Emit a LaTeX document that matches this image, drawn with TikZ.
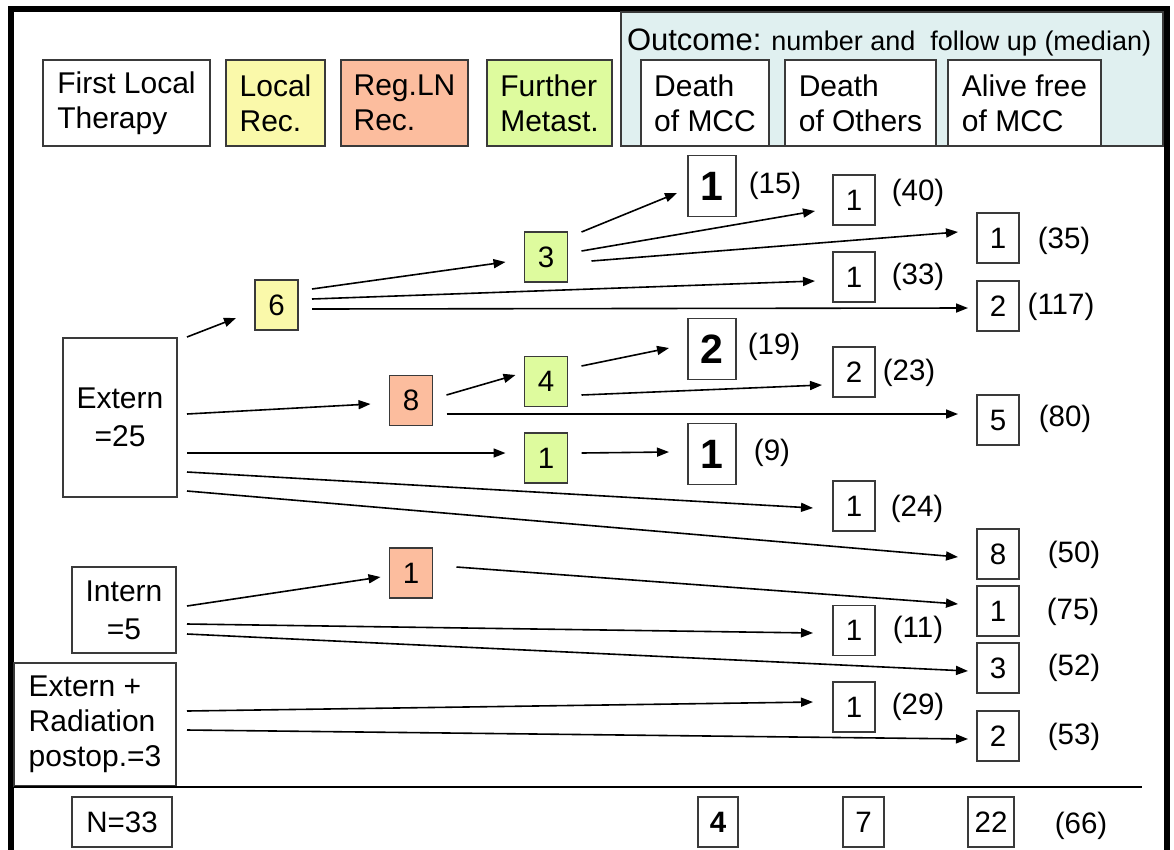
\documentclass[tikz,border=0pt]{standalone}
\usepackage{fontspec}
\setmainfont{Liberation Sans}
\usetikzlibrary{arrows.meta,calc}
\definecolor{cyel}{HTML}{FAF9AA}
\definecolor{csal}{HTML}{FCBD9E}
\definecolor{cgrn}{HTML}{DEFB9E}
\definecolor{cpan}{HTML}{E0F0F0}
\definecolor{cbord}{HTML}{3A3A3A}
\begin{document}
\begin{tikzpicture}[x=1pt,y=-1pt,
  every node/.style={inner sep=0pt, outer sep=0pt},
  frame/.style={line width=1.3pt, draw=cbord},
  hdr/.style={frame, minimum height=86pt, align=left, font=\fontsize{30}{35}\selectfont},
  leftbox/.style={frame, fill=white, font=\fontsize{30}{38}\selectfont},
  midbox/.style={frame, minimum width=43pt, minimum height=50pt, font=\fontsize{29.5}{29.5}\selectfont},
  obox/.style={frame, fill=white, minimum width=42pt, minimum height=50pt, font=\fontsize{29.5}{29.5}\selectfont},
  boldbox/.style={frame, fill=white, minimum width=48pt, minimum height=61pt, font=\fontsize{41}{41}\selectfont\bfseries},
  lbl/.style={font=\fontsize{29.5}{29.5}\selectfont},
  arr/.style={line width=1.6pt, -{Triangle[length=12pt,width=9pt]}}
]
\useasboundingbox (0,0) rectangle (1174,849);
\begin{scope}
\clip (0,0) rectangle (1174,849);
\draw[line width=6.5pt] (11,880) -- (11,9) -- (1167,9) -- (1167,880);
\end{scope}

% header
\node[hdr, fill=white, minimum width=167pt] (h1) at (126.5,103) {First Local\\Therapy};
\node[hdr, fill=cyel, minimum width=99pt] (h2) at (275.5,103) {Local\\Rec.};
\node[hdr, fill=csal, minimum width=127pt] (h3) at (404.5,103) {Reg.LN\\Rec.};
\node[hdr, fill=cgrn, minimum width=125pt] (h4) at (549.5,103) {Further\\Metast.};
\node[frame, fill=cpan, minimum width=542pt, minimum height=134pt, anchor=north west] (panel) at (621,12) {};
\node[anchor=base west] (ptitle) at (627,50) {\fontsize{31}{31}\selectfont Outcome:\fontsize{27}{27}\selectfont{} number and\ \ follow up (median)};
\node[hdr, fill=white, minimum width=128pt] (d1) at (705,103) {Death\\of MCC};
\node[hdr, fill=white, minimum width=151pt] (d2) at (860.5,103) {Death\\of Others};
\node[hdr, fill=white, minimum width=153pt] (d3) at (1024.5,103) {Alive free\\of MCC};

% left column
\node[leftbox, minimum width=114pt, minimum height=159pt, align=center] (ext) at (120,417.5) {Extern\\=25};
\node[leftbox, minimum width=104pt, minimum height=86pt, align=center] (int) at (124,610) {Intern\\=5};
\node[leftbox, minimum width=162pt, minimum height=123pt, align=left, font=\fontsize{30}{35}\selectfont] (erad) at (95,724.5) {Extern +\\Radiation\\postop.=3};

% intermediate boxes
\node[midbox, fill=cyel] (n6) at (276.5,305) {6};
\node[midbox, fill=cgrn] (n3) at (546,257) {3};
\node[midbox, fill=csal] (n8) at (411,400.5) {8};
\node[midbox, fill=cgrn] (n4) at (546,381.5) {4};
\node[midbox, fill=cgrn] (n1g) at (546,458) {1};
\node[midbox, fill=csal] (n1s) at (411,573) {1};

% outcome boxes
\node[boldbox] (b15) at (712,186) {1};
\node[obox] (o40) at (854,200) {1};
\node[obox] (o35) at (998,238) {1};
\node[obox] (o33) at (854,277) {1};
\node[obox] (o117) at (998,306) {2};
\node[boldbox] (b19) at (712,349) {2};
\node[obox] (o23) at (854,372) {2};
\node[obox] (o80) at (998,420) {5};
\node[boldbox] (b9) at (712,454) {1};
\node[obox] (o24) at (854,506) {1};
\node[obox] (o50) at (998,554) {8};
\node[obox] (o75) at (998,611) {1};
\node[obox] (o11) at (854,630.5) {1};
\node[obox] (o52) at (998,668) {3};
\node[obox] (o29) at (854,707) {1};
\node[obox] (o53) at (998,736) {2};

% labels
\node[lbl] (l15) at (775,186) {(15)};
\node[lbl] (l40) at (918,193) {(40)};
\node[lbl] (l35) at (1064,241) {(35)};
\node[lbl] (l33) at (918,277) {(33)};
\node[lbl] (l117) at (1061,307) {(117)};
\node[lbl] (l19) at (774,347) {(19)};
\node[lbl] (l23) at (909,373) {(23)};
\node[lbl] (l80) at (1065,419) {(80)};
\node[lbl] (l9) at (772,453) {(9)};
\node[lbl] (l24) at (917,509) {(24)};
\node[lbl] (l50) at (1074,555) {(50)};
\node[lbl] (l75) at (1073,612) {(75)};
\node[lbl] (l11) at (918,630) {(11)};
\node[lbl] (l52) at (1074,668) {(52)};
\node[lbl] (l29) at (918,707) {(29)};
\node[lbl] (l53) at (1074,737) {(53)};

% arrows
\draw[arr] ($(ext.east)+(10,-80.5)$) -- ($(n6.west)+(-19,13)$);
\draw[arr] ($(n6.east)+(14,-16)$) -- ($(n3.west)+(-19,5)$);
\draw[arr] ($(n6.east)+(14,-6)$) -- ($(o33.west)+(-18,4)$);
\draw[arr] ($(n6.east)+(14,4)$) -- ($(o117.west)+(-9,2)$);
\draw[arr] ($(n3.east)+(14,-25)$) -- ($(b15.west)+(-11,7)$);
\draw[arr] ($(n3.east)+(14,-6)$) -- ($(o40.west)+(-18,11)$);
\draw[arr] ($(n3.east)+(24,4)$) -- ($(o35.west)+(-19,-6)$);
\draw[arr] ($(ext.east)+(10,-3.5)$) -- ($(n8.west)+(-19,3.5)$);
\draw[arr] ($(n8.east)+(14,-5.5)$) -- ($(n4.west)+(-9,-6.5)$);
\draw[arr] ($(n8.east)+(14,13.5)$) -- ($(o80.west)+(-19,-6)$);
\draw[arr] ($(n4.east)+(14,-15.5)$) -- ($(b19.west)+(-19,-1)$);
\draw[arr] ($(n4.east)+(14,13.5)$) -- ($(o23.west)+(-11,13)$);
\draw[arr] ($(ext.east)+(10,35.5)$) -- ($(n1g.west)+(-19,-5)$);
\draw[arr] ($(n1g.east)+(14,-5)$) -- ($(b9.west)+(-19,-2)$);
\draw[arr] ($(ext.east)+(10,54.5)$) -- ($(o24.west)+(-20,2)$);
\draw[arr] ($(ext.east)+(10,73.5)$) -- ($(o50.west)+(-19,3)$);
\draw[arr] ($(int.east)+(11,-4)$) -- ($(n1s.west)+(-9,4)$);
\draw[arr] ($(n1s.east)+(24,-6)$) -- ($(o75.west)+(-19,-7)$);
\draw[arr] ($(int.east)+(11,14)$) -- ($(o11.west)+(-20,2.5)$);
\draw[arr] ($(int.east)+(11,24)$) -- ($(o52.west)+(-9,3)$);
\draw[arr] ($(erad.east)+(11,-13.5)$) -- ($(o29.west)+(-20,-5)$);
\draw[arr] ($(erad.east)+(11,5.5)$) -- ($(o53.west)+(-9,3)$);

% totals
\draw[line width=1.3pt] (14,787) -- (1142,787);
\node[obox, minimum width=100pt] (nN) at (122,822) {N=33};
\node[obox, minimum width=40pt, font=\fontsize{29.5}{29.5}\selectfont\bfseries] (t4) at (718,822) {4};
\node[obox, minimum width=41pt] (t7) at (863.5,822) {7};
\node[obox, minimum width=46pt] (t22) at (991,822) {22};
\node[lbl] (l66) at (1081,826) {(66)};
\end{tikzpicture}
\end{document}
